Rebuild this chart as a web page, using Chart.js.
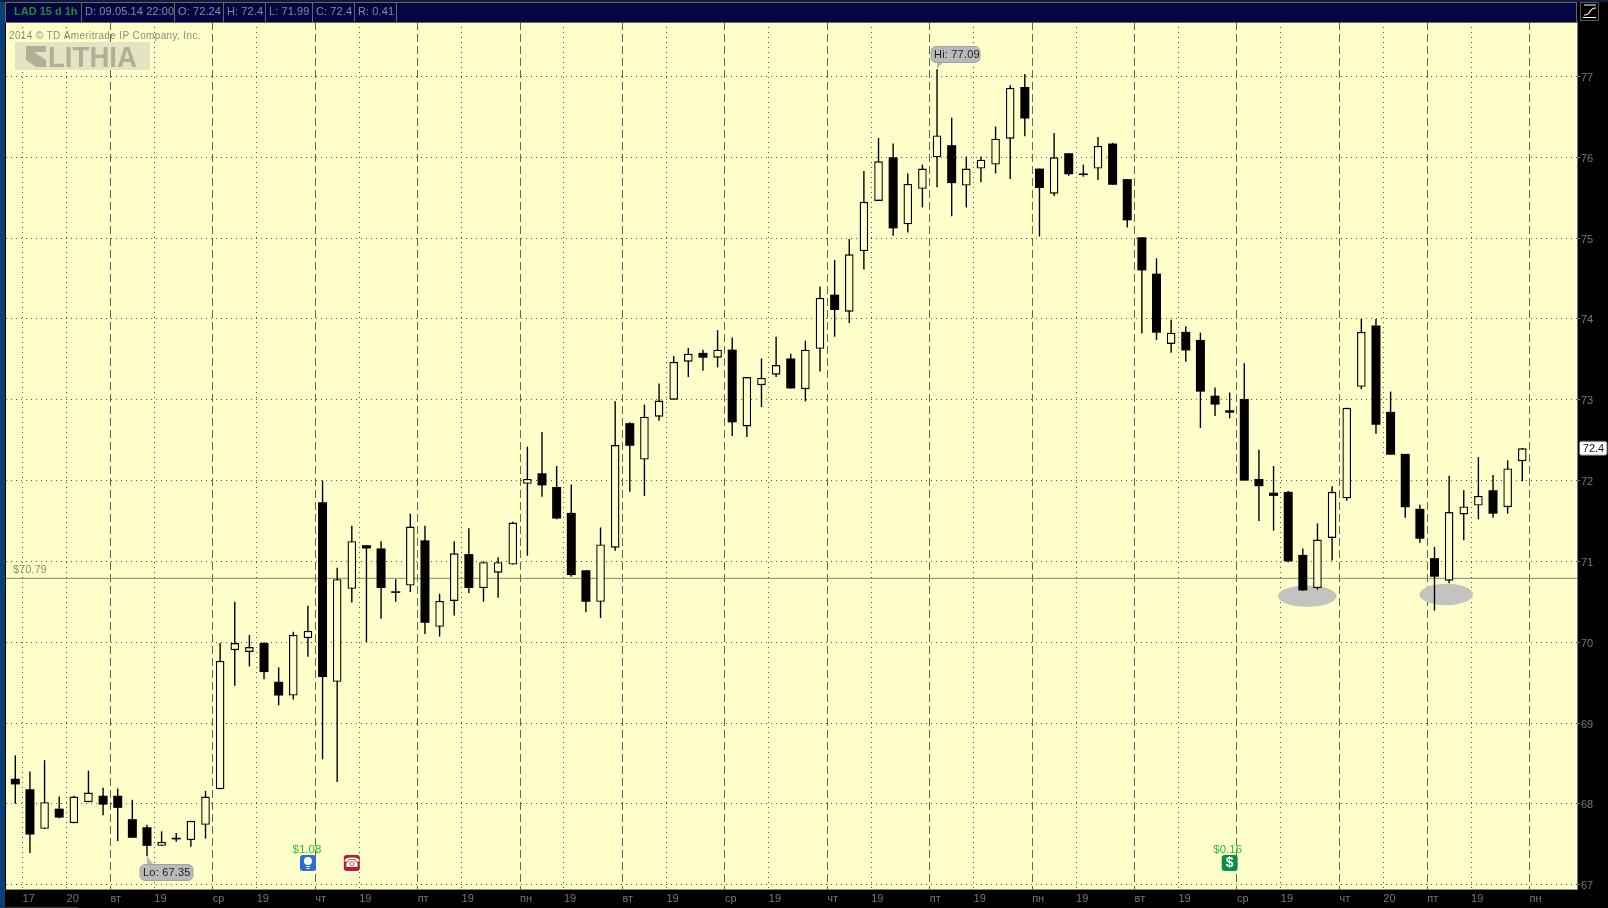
<!DOCTYPE html>
<html>
<head>
<meta charset="utf-8">
<title>LAD 15 d 1h</title>
<style>
html, body { margin: 0; padding: 0; background: #000; }
canvas { display: block; }
</style>
<script src="https://cdn.jsdelivr.net/npm/chart.js@4/dist/chart.umd.min.js"></script>
</head>
<body>
<canvas id="chart" width="1608" height="908"></canvas>
<script>
'use strict'

// candle values, one entry per hour bar
const opens = [
    68.31, 68.18, 67.69, 67.94, 67.76, 68.02, 68.10, 68.10, 67.81, 67.71,
    67.48, 67.58, 67.55, 67.74, 68.18, 69.90, 69.88, 69.99, 69.51, 69.34,
    70.05, 71.73, 69.51, 70.66, 71.20, 71.16, 70.63, 70.70, 71.26, 70.19,
    70.51, 71.09, 70.67, 70.86, 70.96, 71.96, 72.09, 71.92, 71.60, 70.89,
    70.50, 71.17, 72.71, 72.26, 72.79, 73.00, 73.47, 73.58, 73.52, 73.62,
    72.67, 73.18, 73.31, 73.51, 73.13, 73.63, 74.30, 74.09, 74.84, 75.46,
    76.00, 75.17, 75.61, 76.00, 76.15, 75.65, 75.86, 75.91, 76.23, 76.87,
    75.86, 75.55, 76.05, 75.80, 75.86, 76.17, 75.73, 75.01, 74.56, 73.69,
    73.84, 73.74, 73.05, 72.87, 73.01, 72.02, 71.85, 71.86, 71.08, 70.67,
    71.29, 71.78, 73.16, 73.92, 72.85, 72.33, 71.65, 71.04, 70.76, 71.58,
    71.69, 71.88, 71.67, 72.24
];
const highs = [
    68.60, 68.40, 68.54, 68.09, 68.10, 68.41, 68.20, 68.19, 68.05, 67.74,
    67.66, 67.64, 67.79, 68.16, 69.99, 70.50, 70.09, 70.00, 69.69, 70.13,
    70.45, 72.00, 70.92, 71.44, 71.20, 71.25, 70.78, 71.59, 71.44, 70.60,
    71.25, 71.41, 71.00, 71.05, 71.49, 72.42, 72.60, 72.18, 71.95, 70.89,
    71.42, 72.98, 72.72, 72.94, 73.20, 73.54, 73.64, 73.62, 73.86, 73.77,
    73.28, 73.51, 73.78, 73.57, 73.73, 74.40, 74.73, 74.99, 75.83, 76.24,
    76.17, 75.80, 75.91, 77.09, 76.49, 76.01, 76.01, 76.38, 76.89, 77.03,
    75.86, 76.30, 76.05, 75.91, 76.25, 76.18, 75.73, 75.01, 74.75, 73.99,
    73.91, 73.83, 73.15, 73.09, 73.45, 72.38, 72.18, 71.87, 71.16, 71.47,
    71.93, 72.90, 74.00, 74.00, 73.10, 72.33, 71.70, 71.18, 72.06, 71.88,
    72.29, 72.07, 72.25, 72.40
];
const lows = [
    68.00, 67.39, 67.69, 67.82, 67.76, 68.02, 67.86, 67.54, 67.58, 67.35,
    67.48, 67.53, 67.47, 67.57, 68.18, 69.46, 69.70, 69.54, 69.22, 69.29,
    69.82, 68.55, 68.27, 70.49, 70.00, 70.29, 70.50, 70.62, 70.10, 70.07,
    70.33, 70.61, 70.50, 70.55, 70.96, 71.07, 71.80, 71.52, 70.81, 70.37,
    70.30, 71.13, 71.86, 71.81, 72.74, 73.00, 73.28, 73.36, 73.40, 72.55,
    72.54, 72.91, 73.28, 73.14, 72.98, 73.35, 73.78, 73.95, 74.61, 75.46,
    75.03, 75.07, 75.38, 75.63, 75.27, 75.38, 75.69, 75.80, 75.73, 76.26,
    75.02, 75.52, 75.77, 75.76, 75.72, 75.66, 75.13, 73.82, 73.74, 73.58,
    73.47, 72.65, 72.80, 72.77, 72.00, 71.50, 71.38, 70.99, 70.64, 70.65,
    71.01, 71.75, 73.13, 72.58, 72.32, 71.54, 71.23, 70.39, 70.73, 71.26,
    71.52, 71.54, 71.59, 71.99
];
const closes = [
    68.24, 67.62, 68.02, 67.83, 68.09, 68.14, 67.99, 67.95, 67.58, 67.48,
    67.53, 67.56, 67.79, 68.09, 69.77, 69.99, 69.94, 69.63, 69.34, 70.09,
    70.14, 69.57, 70.78, 71.25, 71.16, 70.67, 70.61, 71.43, 70.24, 70.51,
    71.10, 70.67, 70.99, 70.99, 71.48, 72.02, 71.94, 71.53, 70.83, 70.50,
    71.21, 72.44, 72.43, 72.79, 72.99, 73.47, 73.57, 73.52, 73.62, 72.72,
    73.28, 73.27, 73.43, 73.14, 73.62, 74.26, 74.11, 74.80, 75.45, 75.95,
    75.12, 75.67, 75.86, 76.27, 75.68, 75.86, 75.97, 76.23, 76.86, 76.48,
    75.62, 76.00, 75.79, 75.78, 76.14, 75.66, 75.22, 74.60, 73.83, 73.83,
    73.61, 73.10, 72.94, 72.84, 72.00, 71.93, 71.81, 71.00, 70.64, 71.27,
    71.86, 72.90, 73.84, 72.69, 72.32, 71.67, 71.28, 70.81, 71.61, 71.68,
    71.81, 71.59, 72.15, 72.40
];

// axis ticks
const priceTicks = [67, 68, 69, 70, 71, 72, 73, 74, 75, 76, 77];
const timeTicks = [
    0.5, 3.5, 6.5, 9.5, 13.5, 16.5, 20.5, 23.5, 27.5, 30.5, 34.5, 37.5, 41.5, 44.5, 48.5, 51.5,
    55.5, 58.5, 62.5, 65.5, 69.5, 72.5, 76.5, 79.5, 83.5, 86.5, 90.5, 93.5, 96.5, 99.5, 103.5
];
const timeLabels = [
    '17', '20', 'вт', '19', 'ср', '19', 'чт', '19', 'пт', '19', 'пн', '19', 'вт', '19', 'ср', '19',
    'чт', '19', 'пт', '19', 'пн', '19', 'вт', '19', 'ср', '19', 'чт', '20', 'пт', '19', 'пн'
];
const dayStartLabels = ['вт', 'ср', 'чт', 'пт', 'пн'];

// annotations
const lastPrice = 72.4;
const supportPrice = 70.79;
const supportLabel = '$70.79';
const headerCells = ['D: 09.05.14 22:00', 'O: 72.24', 'H: 72.4', 'L: 71.99', 'C: 72.4', 'R: 0.41'];
const ellipseBars = [88.3, 97.8];
const ellipsePrices = [70.57, 70.59];
const eventBars = [20, 23, 83];

const xMin = -0.636;
const xMax = 106.74;
const yMin = 66.946;
const yMax = 77.674;
const PAPER = '#ffffcc';
const FONT = '"Liberation Sans", Arial, sans-serif';

function bodyData(wantUp) {
    const result = [];
    for (var i = 0; i < opens.length; i++) {
        const up = closes[i] >= opens[i];
        if (up === wantUp) {
            result.push({ x: i, y: [opens[i], closes[i]] });
        }
    }
    return result;
}

function wickData() {
    return highs.map((h, i) => ({ x: i, y: [lows[i], h] }));
}

function isDayStart(index) {
    return dayStartLabels.includes(timeLabels[index]);
}

function roundBox(ctx, x, y, w, h, r, fill, stroke) {
    ctx.beginPath();
    ctx.roundRect(x, y, w, h, r);
    ctx.fillStyle = fill;
    ctx.fill();
    if (stroke) {
        ctx.strokeStyle = stroke;
        ctx.lineWidth = 1;
        ctx.stroke();
    }
}

function label(ctx, text, x, y, font, color, align) {
    ctx.font = font;
    ctx.fillStyle = color;
    ctx.textAlign = align || 'left';
    ctx.textBaseline = 'middle';
    ctx.fillText(text, x, y);
}

// window frame and header strip
function drawFrame(chart) {
    const ctx = chart.ctx;
    const area = chart.chartArea;
    ctx.save();
    ctx.fillStyle = '#000';
    ctx.fillRect(0, 0, 1608, 908);
    ctx.fillStyle = '#0a3f78';
    ctx.fillRect(0, 0, 5, 908);
    ctx.fillStyle = '#0b1c3c';
    ctx.fillRect(0, 0, 1608, 2);
    ctx.fillStyle = PAPER;
    ctx.fillRect(area.left, area.top, area.right - area.left, area.bottom - area.top);

    ctx.fillStyle = '#050542';
    ctx.fillRect(6, 2, 1570, 20);
    ctx.strokeStyle = '#6b6660';
    ctx.lineWidth = 1;
    ctx.strokeRect(5.5, 2.5, 1571, 20);
    const dividers = [81.5, 174.5, 223.5, 265.5, 312.5, 354.5, 396.5];
    dividers.forEach(x => {
        ctx.beginPath();
        ctx.moveTo(x, 3);
        ctx.lineTo(x, 22);
        ctx.stroke();
    });
    label(ctx, 'LAD 15 d 1h', 14, 11.5, 'bold 11px ' + FONT, '#1f8a3c');
    ctx.letterSpacing = '0.1px';
    headerCells.forEach((text, i) => {
        label(ctx, text, dividers[i] + 3.5, 11.5, '11px ' + FONT, '#8b8b9c');
    });
    ctx.letterSpacing = '0px';

    // study button top right
    ctx.strokeStyle = '#555';
    ctx.strokeRect(1580.5, 2.5, 18, 18);
    ctx.strokeStyle = '#fff';
    ctx.lineWidth = 1.2;
    ctx.beginPath();
    ctx.moveTo(1584, 5);
    ctx.lineTo(1596, 5);
    ctx.moveTo(1583, 17.5);
    ctx.lineTo(1596, 17.5);
    ctx.moveTo(1584, 15);
    ctx.bezierCurveTo(1592, 15.5, 1588, 7.5, 1596, 8);
    ctx.stroke();

    ctx.fillStyle = '#333';
    ctx.fillRect(2, 907, 76, 1);
    ctx.restore();
}

function drawEllipses(chart) {
    const ctx = chart.ctx;
    const xs = chart.scales.x;
    const ys = chart.scales.y;
    ctx.save();
    ctx.fillStyle = '#c3c3bf';
    const radiusX = [29.3, 26.8];
    ellipseBars.forEach((bar, i) => {
        ctx.beginPath();
        ctx.ellipse(xs.getPixelForValue(bar), ys.getPixelForValue(ellipsePrices[i]), radiusX[i], 10.7, 0, 0, Math.PI * 2);
        ctx.fill();
    });
    ctx.restore();
}

function drawLogo(ctx) {
    ctx.fillStyle = '#e4e4c4';
    ctx.fillRect(15, 42, 135, 28);
    ctx.fillStyle = '#b0b098';
    ctx.beginPath();
    ctx.moveTo(26, 46);
    ctx.lineTo(46, 46);
    ctx.lineTo(46, 52);
    ctx.lineTo(34, 52);
    ctx.lineTo(46, 60);
    ctx.lineTo(46, 67);
    ctx.lineTo(36, 67);
    ctx.lineTo(26, 60);
    ctx.closePath();
    ctx.fill();
    ctx.font = 'bold 29px ' + FONT;
    ctx.textAlign = 'left';
    ctx.textBaseline = 'alphabetic';
    ctx.fillText('LITHIA', 48, 67, 89);
}

// callout bubble pointing at a wick end
function drawCallout(ctx, text, tipX, tipY, boxX, boxY, boxW, boxH, tailX) {
    ctx.fillStyle = '#b9b9b9';
    ctx.beginPath();
    ctx.moveTo(tipX, tipY);
    ctx.lineTo(tailX, tipY < boxY ? boxY + 1 : boxY + boxH - 1);
    ctx.lineTo(tailX + 7, tipY < boxY ? boxY + 1 : boxY + boxH - 1);
    ctx.closePath();
    ctx.fill();
    roundBox(ctx, boxX + 0.5, boxY + 0.5, boxW, boxH, 5, '#b9b9b9', '#a2a2a2');
    ctx.letterSpacing = '0.2px';
    label(ctx, text, boxX + 3.5, boxY + boxH / 2 + 0.5, '11px ' + FONT, '#222');
    ctx.letterSpacing = '0px';
}

function drawEvents(chart) {
    const ctx = chart.ctx;
    const xs = chart.scales.x;
    const top = 855;
    const blue = xs.getPixelForValue(eventBars[0]);
    const red = xs.getPixelForValue(eventBars[1]);
    const green = xs.getPixelForValue(eventBars[2]);

    label(ctx, '$1.08', blue - 1, 850, '11.5px ' + FONT, '#22c422', 'center');
    roundBox(ctx, blue - 8, top, 16, 16, 3, '#2a6fd6');
    ctx.fillStyle = '#fff';
    ctx.beginPath();
    ctx.arc(blue, top + 6, 4, 0, Math.PI * 2);
    ctx.fill();
    ctx.fillRect(blue - 2, top + 11, 4, 1);
    ctx.fillRect(blue - 1.5, top + 13, 3, 1);

    roundBox(ctx, red - 8, top, 16, 16, 3, '#b81c24');
    label(ctx, '☎', red, top + 8.5, '13px "DejaVu Sans"', '#fff', 'center');

    label(ctx, '$0.16', green - 2, 850, '11.5px ' + FONT, '#22c422', 'center');
    roundBox(ctx, green - 8, top, 16, 16, 3, '#0f8a4a');
    label(ctx, '$', green, top + 8.5, 'bold 14px ' + FONT, '#fff', 'center');
}

function drawNotes(chart) {
    const ctx = chart.ctx;
    const xs = chart.scales.x;
    const ys = chart.scales.y;
    ctx.save();

    ctx.letterSpacing = '0.35px';
    label(ctx, '2014 © TD Ameritrade IP Company, Inc.', 9, 36, '10px ' + FONT, '#8c8c78');
    ctx.letterSpacing = '0px';
    drawLogo(ctx);

    label(ctx, supportLabel, 13, ys.getPixelForValue(supportPrice) - 8, '11px ' + FONT, '#8c8c78');

    // highest and lowest bar of the range
    const hi = Math.max(...highs);
    const lo = Math.min(...lows);
    const hiX = xs.getPixelForValue(highs.indexOf(hi));
    const loX = xs.getPixelForValue(lows.indexOf(lo));
    drawCallout(ctx, 'Hi: ' + hi.toFixed(2), hiX, ys.getPixelForValue(hi), 930.5, 46, 49, 16, hiX);
    drawCallout(ctx, 'Lo: ' + lo.toFixed(2), loX, ys.getPixelForValue(lo), 139.5, 864, 53, 16, loX);

    drawEvents(chart);

    // current price flag
    const lastY = ys.getPixelForValue(lastPrice);
    roundBox(ctx, 1579.5, lastY - 7, 27.5, 14, 2, '#fff', '#666');
    label(ctx, String(lastPrice), 1593.5, lastY + 0.5, '11px ' + FONT, '#111', 'center');
    ctx.restore();
}

const chartDecorations = {
    id: 'chartDecorations',
    beforeDraw: drawFrame,
    beforeDatasetsDraw: drawEllipses,
    afterDatasetsDraw: drawNotes
};

new Chart(document.getElementById('chart'), {
    type: 'bar',
    plugins: [chartDecorations],
    data: {
        datasets: [
            {
                type: 'line',
                data: [{ x: xMin, y: supportPrice }, { x: xMax, y: supportPrice }],
                borderColor: '#85856f',
                borderWidth: 1,
                pointRadius: 0,
                order: 4
            },
            {
                data: wickData(),
                backgroundColor: '#000',
                borderWidth: 0,
                barThickness: 1.4,
                inflateAmount: 0,
                grouped: false,
                order: 3
            },
            {
                data: bodyData(true),
                backgroundColor: PAPER,
                borderColor: '#000',
                borderWidth: 1.4,
                borderSkipped: false,
                barThickness: 8.6,
                inflateAmount: 0,
                grouped: false,
                order: 2
            },
            {
                data: bodyData(false),
                backgroundColor: '#000',
                borderColor: '#000',
                borderWidth: 0,
                borderSkipped: false,
                barThickness: 9,
                inflateAmount: 0,
                grouped: false,
                order: 1
            }
        ]
    },
    options: {
        responsive: false,
        animation: false,
        events: [],
        layout: { padding: { top: 22, left: 6, right: 0, bottom: 0 } },
        plugins: { legend: { display: false }, tooltip: { enabled: false } },
        scales: {
            x: {
                type: 'linear',
                bounds: 'data',
                offset: false,
                min: xMin,
                max: xMax,
                afterFit: scale => { scale.height = 19; },
                afterBuildTicks: scale => { scale.ticks = timeTicks.map(v => ({ value: v })); },
                grid: {
                    offset: false,
                    drawTicks: false,
                    color: ctx => (isDayStart(ctx.index) ? '#66664a' : '#55553c')
                },
                border: {
                    color: '#8a8a62',
                    dash: ctx => (ctx.type === 'tick' && isDayStart(ctx.index) ? [8, 4] : [1, 4])
                },
                ticks: {
                    autoSkip: false,
                    maxRotation: 0,
                    align: 'start',
                    padding: 3,
                    color: '#777',
                    font: { family: FONT, size: 11 },
                    callback: (value, index) => timeLabels[index]
                }
            },
            y: {
                type: 'linear',
                position: 'right',
                bounds: 'data',
                min: yMin,
                max: yMax,
                afterFit: scale => { scale.width = 31; },
                afterBuildTicks: scale => { scale.ticks = priceTicks.map(v => ({ value: v })); },
                grid: {
                    color: '#55553c',
                    tickColor: '#777',
                    tickLength: 3
                },
                border: {
                    color: '#777',
                    dash: ctx => (ctx.type === 'tick' ? [1, 4] : [])
                },
                ticks: {
                    padding: 1,
                    labelOffset: 1.5,
                    color: '#777',
                    font: { family: FONT, size: 11 },
                    callback: value => String(value)
                }
            }
        }
    }
});
</script>
</body>
</html>
